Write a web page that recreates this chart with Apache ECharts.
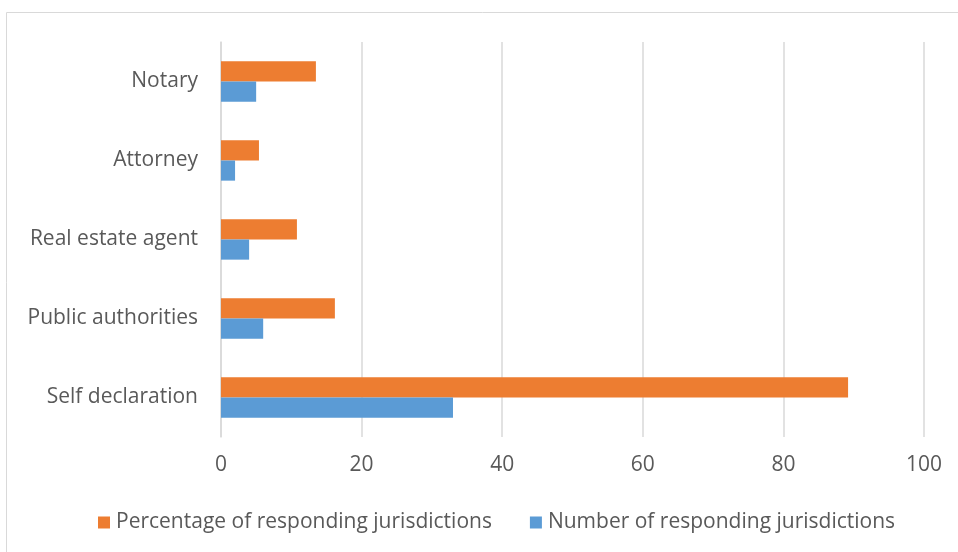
<!DOCTYPE html>
<html>
<head>
<meta charset="utf-8">
<script src="https://cdn.jsdelivr.net/npm/echarts@6/dist/echarts.min.js"></script>
<style>
  html, body { margin: 0; padding: 0; background: #fff; }
  #chart { width: 958px; height: 552px; }
</style>
</head>
<body>
<div id="chart"></div>
<script>
// Verification methods, bottom to top on the category axis
const categories = ['Self declaration', 'Public authorities', 'Real estate agent', 'Attorney', 'Notary'];
const percentageValues = [89.2, 16.2, 10.8, 5.4, 13.5];
const numberValues = [33, 6, 4, 2, 5];
const xTicks = [0, 20, 40, 60, 80, 100];

const textColor = '#595959';
const fontFamily = 'Open Sans, Liberation Sans, sans-serif';

const chart = echarts.init(document.getElementById('chart'));
chart.setOption({
  animation: false,
  graphic: [{
    type: 'rect',
    shape: { x: 6.5, y: 12.5, width: 1000, height: 600 },
    style: { fill: 'none', stroke: '#d9d9d9', lineWidth: 1 },
    silent: true
  }],
  grid: { left: 221, right: 34, top: 42, bottom: 115 },
  legend: {
    data: ['Percentage of responding jurisdictions', 'Number of responding jurisdictions'],
    top: 512,
    left: 98,
    padding: 0,
    itemWidth: 12,
    itemHeight: 12,
    itemGap: 38,
    icon: 'rect',
    textStyle: { color: textColor, fontSize: 21, fontFamily: fontFamily, padding: [0, 0, 0, 1] }
  },
  xAxis: {
    type: 'value',
    min: xTicks[0],
    max: xTicks[xTicks.length - 1],
    interval: 20,
    axisLine: { show: false },
    axisTick: { show: false },
    splitLine: { lineStyle: { color: '#d9d9d9', width: 1.5 } },
    axisLabel: { color: textColor, fontSize: 21, fontFamily: fontFamily, margin: 18 }
  },
  yAxis: {
    type: 'category',
    data: categories,
    axisLine: { show: true, lineStyle: { color: '#d9d9d9', width: 1.5 } },
    axisTick: { show: false },
    axisLabel: { color: textColor, fontSize: 21, fontFamily: fontFamily, margin: 23 }
  },
  series: [
    {
      name: 'Percentage of responding jurisdictions',
      type: 'bar',
      data: percentageValues,
      barGap: '0%',
      barCategoryGap: '49%',
      itemStyle: { color: '#ED7D31' }
    },
    {
      name: 'Number of responding jurisdictions',
      type: 'bar',
      data: numberValues,
      barGap: '0%',
      barCategoryGap: '49%',
      itemStyle: { color: '#5B9BD5' }
    }
  ]
});
</script>
</body>
</html>
